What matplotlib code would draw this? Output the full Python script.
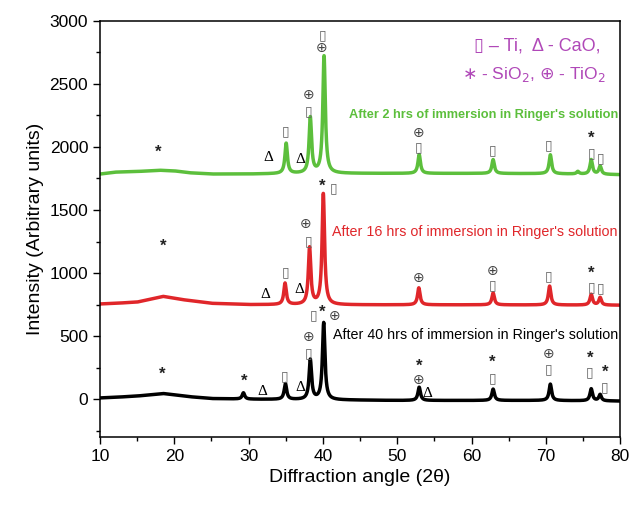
import numpy as np
import matplotlib
matplotlib.use("Agg")
import matplotlib.pyplot as plt
from matplotlib.ticker import MultipleLocator

plt.rcParams['font.family'] = ['Liberation Sans', 'DejaVu Sans']

# ---------------- data ----------------
# baselines (2theta, intensity)
green_base_x = [10, 12, 15, 18, 20, 22, 25, 30, 35, 40, 50, 60, 70, 80]
green_base_y = [1785, 1800, 1805, 1815, 1810, 1795, 1785, 1785, 1788, 1790, 1790, 1790, 1788, 1780]
green_peak_x = [35.05, 38.3, 40.15, 52.95, 62.9, 70.6, 74.3, 76.1, 77.3]
green_peak_h = [240, 440, 930, 150, 110, 150, 20, 115, 65]

red_base_x = [10, 12, 15, 18.5, 21, 25, 30, 40, 50, 60, 70, 80]
red_base_y = [755, 760, 770, 815, 790, 760, 750, 748, 748, 748, 747, 745]
red_peak_x = [34.9, 38.2, 40.05, 52.9, 62.9, 70.5, 76.1, 77.3]
red_peak_h = [170, 450, 880, 135, 95, 150, 85, 60]

black_base_x = [10, 12, 15, 18.5, 22, 25, 30, 40, 50, 60, 70, 80]
black_base_y = [10, 15, 25, 45, 20, 5, 0, -5, -10, -10, -10, -15]
black_peak_x = [29.3, 34.95, 38.3, 40.1, 52.95, 62.9, 70.6, 76.1, 77.3]
black_peak_h = [50, 125, 315, 610, 105, 90, 130, 95, 50]

TI, CAO, SIO2, TIO2 = "▯", "Δ", "*", "⊕"

green_ann = [(SIO2, 17.8, 1960), (CAO, 32.6, 1913), (CAO, 36.9, 1897), (TI, 35.0, 2127),
             (TIO2, 38.0, 2415), (TI, 38.1, 2280), (TI, 39.9, 2885), (TIO2, 39.8, 2785),
             (TIO2, 52.9, 2110), (TI, 52.9, 2000), (TI, 62.8, 1976), (TI, 70.4, 2016),
             (SIO2, 76.1, 2065), (TI, 76.1, 1950), (TI, 77.3, 1913)]
red_ann = [(SIO2, 18.5, 1214), (CAO, 32.2, 833), (TI, 35.0, 1008), (CAO, 36.8, 873),
           (TIO2, 37.7, 1390), (TI, 38.1, 1255), (SIO2, 39.9, 1690), (TI, 41.4, 1675),
           (TIO2, 52.9, 960), (TIO2, 62.8, 1015), (TI, 62.8, 905), (TI, 70.4, 976),
           (SIO2, 76.1, 995), (TI, 76.1, 885), (TI, 77.4, 881)]
black_ann = [(SIO2, 18.3, 198), (SIO2, 29.4, 143), (CAO, 31.8, 63), (TI, 34.8, 183),
             (CAO, 36.9, 95), (TIO2, 38.1, 490), (TI, 38.1, 367), (TI, 38.8, 667),
             (SIO2, 39.9, 690), (TIO2, 41.5, 659), (SIO2, 52.9, 258), (TIO2, 52.9, 152),
             (CAO, 54.0, 48), (SIO2, 62.8, 292), (TI, 62.8, 165), (TIO2, 70.4, 355),
             (TI, 70.4, 235), (SIO2, 75.9, 325), (TI, 75.9, 212), (SIO2, 78.0, 212),
             (TI, 77.9, 92)]

labels = ["After 2 hrs of immersion in Ringer's solution",
          "After 16 hrs of immersion in Ringer's solution",
          "After 40 hrs of immersion in Ringer's solution"]
label_y = [2254, 1325, 508]
colors = ["#5cbf3c", "#e0262a", "#000000"]

# ---------------- build ----------------
x = np.linspace(10, 80, 3501)


def spectrum(bx, by, px, ph, hw=0.2):
    y = np.interp(x, bx, by)
    for c, h in zip(px, ph):
        y = y + h / (1 + ((x - c) / hw) ** 2)
    return y


fig = plt.figure(figsize=(6.29, 5.07), dpi=100)
ax = fig.add_axes([0.159, 0.138, 0.827, 0.821])

series = [(green_base_x, green_base_y, green_peak_x, green_peak_h, green_ann),
          (red_base_x, red_base_y, red_peak_x, red_peak_h, red_ann),
          (black_base_x, black_base_y, black_peak_x, black_peak_h, black_ann)]

for i, ((bx, by, px, ph, ann), col, lab, ly) in enumerate(zip(series, colors, labels, label_y)):
    ax.plot(x, spectrum(bx, by, px, ph), color=col, lw=2.5)
    for sym, sx, sy in ann:
        if sym == TI:
            ax.text(sx, sy, sym, ha='center', va='center', fontsize=10,
                    color='#666666', family=['DejaVu Sans'])
        elif sym == CAO:
            ax.text(sx, sy, sym, ha='center', va='center', fontsize=11,
                    color='black', family=['Liberation Serif', 'DejaVu Serif'])
        elif sym == TIO2:
            ax.text(sx, sy, sym, ha='center', va='center', fontsize=10,
                    color='#444444', family=['DejaVu Sans'])
        else:
            ax.text(sx, sy, sym, ha='center', va='center', fontsize=12,
                    color='#222222', fontweight='bold')
    if i == 0:
        ax.text(79.7, ly, lab, ha='right', va='center', fontsize=9.2,
                color=col, fontweight='bold')
    else:
        ax.text(79.7, ly, lab, ha='right', va='center', fontsize=10.3, color=col)

# legend text
leg_col = "#b048b8"
ax.text(77.4, 2802, "▯ – Ti,  Δ - CaO,", ha='right', va='center', fontsize=13,
        color=leg_col, family=['Liberation Sans', 'DejaVu Sans'])
ax.text(78.0, 2571, r"$\ast$ - SiO$_2$, $\oplus$ - TiO$_2$", ha='right', va='center',
        fontsize=12.5, color=leg_col)

ax.set_xlim(10, 80)
ax.set_ylim(-300, 3000)
ax.xaxis.set_major_locator(MultipleLocator(10))
ax.xaxis.set_minor_locator(MultipleLocator(5))
ax.yaxis.set_major_locator(MultipleLocator(500))
ax.yaxis.set_minor_locator(MultipleLocator(250))
ax.tick_params(which='both', direction='out', top=False, right=False, labelsize=12.5, width=1)
ax.tick_params(which='major', length=5)
ax.tick_params(which='minor', length=3)
for s in ax.spines.values():
    s.set_linewidth(1.1)
ax.set_xlabel("Diffraction angle (2θ)", fontsize=14)
ax.set_ylabel("Intensity (Arbitrary units)", fontsize=14)

fig.savefig("out.png", dpi=100)
